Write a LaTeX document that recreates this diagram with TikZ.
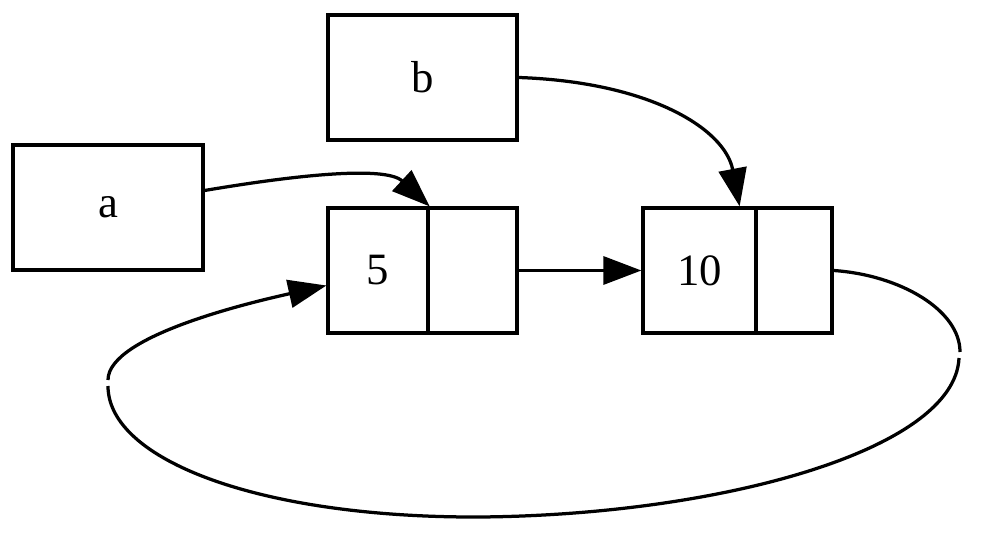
\documentclass[tikz,border=0pt]{standalone}
\usepackage{fontspec}
\setmainfont{Liberation Serif}
\usetikzlibrary{arrows.meta}
\begin{document}
\begin{tikzpicture}[x=0.02cm,y=-0.02cm,
  box/.style={draw,line width=0.065cm,inner sep=0pt,minimum height=2.5cm,font=\fontsize{25.5}{30}\selectfont},
  edge/.style={line width=0.065cm,-{Triangle[length=0.76cm,width=0.56cm]}},
  plain/.style={line width=0.065cm}]
\useasboundingbox (0,0) rectangle (1000,550);
\node[box,minimum width=3.78cm] (b) at (422.5,77.5) {b};
\node[box,minimum width=3.8cm] (a) at (108,207.5) {a};
\node[box,minimum width=2cm] (n5l) at (378,270.5) {5};
\node[box,minimum width=1.78cm] (n5r) at (472.5,270.5) {};
\node[box,minimum width=2.26cm] (n10l) at (699.5,270.5) {10};
\node[box,minimum width=1.52cm] (n10r) at (794,270.5) {};
\coordinate (t10) at ([xshift=-0.36cm]n10l.north east);
\coordinate (l5) at ([yshift=-0.3cm]n5l.west);
\coordinate (g1) at (960,352);
\coordinate (g2) at (959,358);
\coordinate (g3) at (108,386);
\coordinate (g4) at (108,380);
\draw[edge] ([yshift=0.34cm]a.east) .. controls (290,176) and (385,165) .. (n5l.north east);
\draw[edge] (b.east) .. controls (650,82) and (725,129) .. (t10);
\draw[edge] (n5r.east) -- (n10l.west);
\draw[plain] (n10r.east) .. controls (900,275) and (960,310) .. (g1);
\draw[plain] (g2) .. controls (955,450) and (720,515) .. (480,517) .. controls (260,518) and (108,460) .. (g3);
\draw[edge] (g4) .. controls (108,335) and (257,301) .. (l5);
\end{tikzpicture}
\end{document}
